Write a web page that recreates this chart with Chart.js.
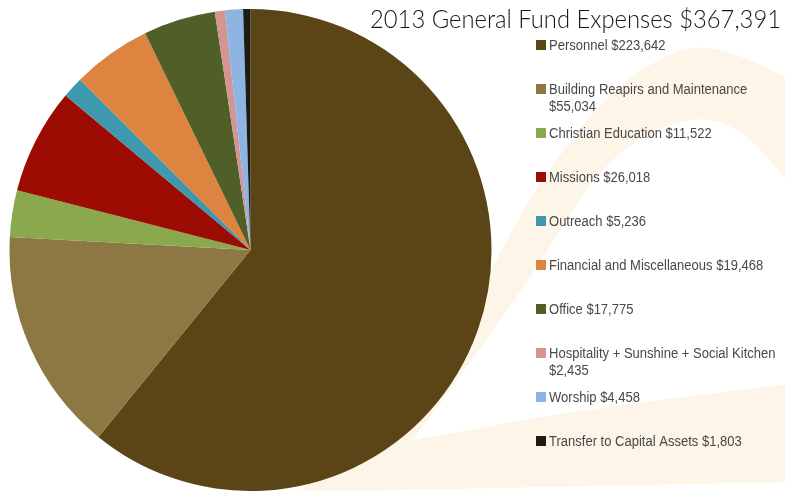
<!DOCTYPE html>
<html>
<head>
<meta charset="utf-8">
<script src="https://cdn.jsdelivr.net/npm/chart.js@4"></script>
<style>
  html, body { margin: 0; padding: 0; background: #fff; overflow: hidden; }
  canvas { display: block; }
</style>
</head>
<body>
<canvas id="chart" width="785" height="491"></canvas>
<script>
// General fund expense categories for the year
const fiscalYear = '2013';
const categories = [
  'Personnel',
  'Building Reapirs and Maintenance',
  'Christian Education',
  'Missions',
  'Outreach',
  'Financial and Miscellaneous',
  'Office',
  'Hospitality + Sunshine + Social Kitchen',
  'Worship',
  'Transfer to Capital Assets'
];
const expenses = [223642, 55034, 11522, 26018, 5236, 19468, 17775, 2435, 4458, 1803];
const sliceColors = [
  '#5b4517', '#8d7742', '#8aa84e', '#9c0c02', '#3e98ae',
  '#dc8440', '#4f5f27', '#d39492', '#8eb4e2', '#1e1b13'
];

const money = v => '$' + v.toLocaleString('en-US');
const fundTotal = expenses.reduce((a, b) => a + b, 0);
const titleText = fiscalYear + ' General Fund Expenses ' + money(fundTotal);

// Smooth path through a list of points (midpoint quadratic smoothing)
function smoothThrough(ctx, pts, start) {
  if (start) ctx.moveTo(pts[0][0], pts[0][1]);
  else ctx.lineTo(pts[0][0], pts[0][1]);
  for (let i = 1; i < pts.length - 1; i++) {
    const mx = (pts[i][0] + pts[i + 1][0]) / 2;
    const my = (pts[i][1] + pts[i + 1][1]) / 2;
    ctx.quadraticCurveTo(pts[i][0], pts[i][1], mx, my);
  }
  const last = pts[pts.length - 1];
  ctx.lineTo(last[0], last[1]);
}

// Soft beige swoosh behind the legend
const backdrop = {
  id: 'backdrop',
  beforeDraw(chart) {
    const ctx = chart.ctx;
    ctx.save();
    ctx.fillStyle = '#ffffff';
    ctx.fillRect(0, 0, chart.width, chart.height);
    ctx.fillStyle = '#fcf5e8';
    ctx.beginPath();
    ctx.moveTo(440, 360);
    smoothThrough(ctx, [[490, 273], [520, 213], [570, 140], [620, 83], [670, 53],
                        [703, 45], [753, 60], [790, 80]], false);
    ctx.lineTo(790, 185);
    smoothThrough(ctx, [[790, 185], [753, 137], [710, 117], [670, 123], [620, 150],
                        [580, 197], [545, 255], [499, 323], [413, 440]], false);
    smoothThrough(ctx, [[413, 440], [470, 430], [580, 410], [790, 384]], false);
    ctx.lineTo(790, 482);
    ctx.lineTo(300, 492);
    ctx.closePath();
    ctx.fill();
    ctx.restore();
  }
};

// Title and the side legend drawn from the chart's own data
const annotate = {
  id: 'annotate',
  afterDraw(chart) {
    const ctx = chart.ctx;
    const labels = chart.data.labels;
    const values = chart.data.datasets[0].data;
    const colors = chart.data.datasets[0].backgroundColor;
    ctx.save();
    ctx.fillStyle = '#161616';
    ctx.font = '300 26px Lato, "Liberation Sans", sans-serif';
    ctx.textAlign = 'right';
    ctx.textBaseline = 'alphabetic';
    ctx.fillText(titleText, 781, 28, 411);

    ctx.textAlign = 'left';
    ctx.font = '14px "Liberation Sans", Arial, sans-serif';
    const sx = 0.93;
    const maxW = 234;
    labels.forEach((name, i) => {
      const cy = 45.3 + 44 * i;
      ctx.fillStyle = colors[i];
      ctx.fillRect(536, Math.round(cy - 5), 10, 10);
      const words = (name + ' ' + money(values[i])).split(' ');
      const lines = [];
      let cur = '';
      words.forEach(w => {
        const test = cur ? cur + ' ' + w : w;
        if (cur && ctx.measureText(test).width * sx > maxW) {
          lines.push(cur);
          cur = w;
        } else {
          cur = test;
        }
      });
      lines.push(cur);
      ctx.fillStyle = '#484848';
      lines.forEach((ln, j) => {
        ctx.save();
        ctx.translate(549, cy + 5 + 17 * j);
        ctx.scale(sx, 1);
        ctx.fillText(ln, 0, 0);
        ctx.restore();
      });
    });
    ctx.restore();
  }
};

new Chart(document.getElementById('chart'), {
  type: 'pie',
  data: {
    labels: categories,
    datasets: [{
      data: expenses,
      backgroundColor: sliceColors,
      borderWidth: 0,
      hoverOffset: 0
    }]
  },
  options: {
    responsive: false,
    devicePixelRatio: 1,
    animation: false,
    layout: { padding: { left: 9, top: 9, right: 293, bottom: 0 } },
    plugins: {
      legend: { display: false },
      title: { display: false },
      tooltip: { enabled: false }
    },
    events: []
  },
  plugins: [backdrop, annotate]
});
</script>
</body>
</html>
